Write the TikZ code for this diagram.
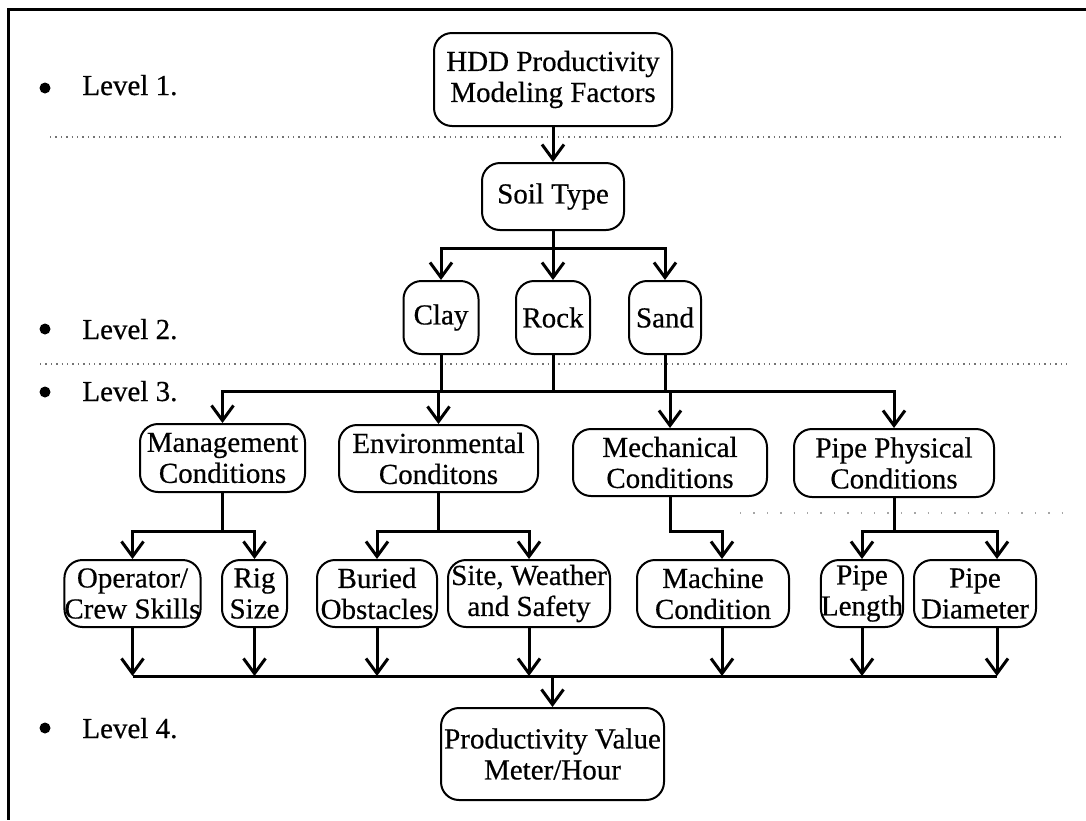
\documentclass[tikz,border=0pt]{standalone}
\usepackage{fontspec}
\setmainfont{Liberation Serif}[FakeBold=0.5]
\usetikzlibrary{arrows.meta}
\begin{document}
\begin{tikzpicture}[x=0.5pt,y=-0.5pt,
  box/.style={draw, line width=1pt, rounded corners=9pt, inner sep=0pt,
    align=center, font=\fontsize{14.5}{15.5}\selectfont},
  conn/.style={line width=1.5pt},
  arr/.style={conn, -{Straight Barb[length=7.5pt,width=11pt,line width=1.5pt]}},
  lvl/.style={anchor=base west, inner sep=0pt, font=\fontsize{14.5}{15.5}\selectfont},
  dot/.style={circle, fill, inner sep=0pt, minimum size=5.5pt},
  sep/.style={black!55, dotted, line width=0.7pt},
  frame/.style={line width=1.5pt}]
\useasboundingbox (0,0) rectangle (1086,820);

% outer frame
\draw[frame] (1086,9) -- (8,9) -- (8,820);

% level separators
\draw[sep] (50,137) -- (1062,137);
\draw[sep] (40,364) -- (1067,364);
\draw[sep, black!35, dash pattern=on 0.7pt off 6pt] (740,513) -- (1062,513);

% level labels with their bullets
\node[lvl] (lv1) at (82,95)  {Level 1.};
\node[lvl] (lv2) at (82,339) {Level 2.};
\node[lvl] (lv3) at (82,401) {Level 3.};
\node[lvl] (lv4) at (82,738) {Level 4.};
\node[dot] (b1) at (45,88)  {};
\node[dot] (b2) at (45,329) {};
\node[dot] (b3) at (45,392) {};
\node[dot] (b4) at (45,728) {};

% level 1
\node[box, minimum width=119pt, minimum height=46.5pt] (hdd) at (553,79.5) {HDD Productivity\\Modeling Factors};
\node[box, minimum width=71pt, minimum height=33.5pt] (soil) at (553,196.5) {Soil Type};

% level 2
\node[box, minimum width=37.5pt, minimum height=36.5pt] (clay) at (441,317.5) {Clay};
\node[box, minimum width=37pt, minimum height=36.5pt] (rock) at (553,317.5) {Rock};
\node[box, minimum width=36pt, minimum height=36.5pt] (sand) at (665,317.5) {Sand};

% level 3
\node[box, minimum width=82.5pt, minimum height=34pt] (mgmt) at (222.5,458) {Management\\Conditions};
\node[box, minimum width=99.5pt, minimum height=33.5pt] (env) at (438.5,458.5) {Environmental\\Conditons};
\node[box, minimum width=97pt, minimum height=33.5pt] (mech) at (670,462.5) {Mechanical\\Conditions};
\node[box, minimum width=100pt, minimum height=34pt] (pphys) at (894,463) {Pipe Physical\\Conditions};

% level 3 factors
\node[box, minimum width=65.5pt, minimum height=33.5pt] (op) at (132.5,593.5) {Operator/\\Crew Skills};
\node[box, minimum width=32.5pt, minimum height=33.5pt] (rig) at (254.5,593.5) {Rig\\Size};
\node[box, minimum width=60pt, minimum height=33.5pt] (bur) at (377,593.5) {Buried\\Obstacles};
\node[box, minimum width=81pt, minimum height=33.5pt] (site) at (529,593.5) {Site, Weather\\and Safety};
\node[box, minimum width=76pt, minimum height=33.5pt] (mach) at (713,593.5) {Machine\\Condition};
\node[box, minimum width=39pt, minimum height=33.5pt] (plen) at (862,593.5) {Pipe\\Length};
\node[box, minimum width=61pt, minimum height=33.5pt] (pdia) at (975,593.5) {Pipe\\Diameter};

% level 4
\node[box, minimum width=111.5pt, minimum height=46pt] (prod) at (552.5,754) {Productivity Value\\Meter/Hour};

% rows of the joining bars and off-centre drop lines
\coordinate (r1) at (0,248);
\coordinate (r3) at (0,391);
\coordinate (r4) at (0,531);
\coordinate (r5) at (0,676);
\coordinate (mcx) at (722,0);
\coordinate (pdx) at (997,0);

% level 1 -> soil type
\draw[arr] (hdd) -- (soil);

% soil type -> clay / rock / sand
\draw[conn] (soil.south) -- (soil.south |- r1) coordinate (sj);
\draw[arr] (sj) -| (clay.north);
\draw[arr] (sj) -- (rock.north);
\draw[arr] (sj) -| (sand.north);

% clay / rock / sand -> condition groups
\draw[conn] (clay.south) -- (clay.south |- r3);
\draw[conn] (rock.south) -- (rock.south |- r3) coordinate (cj);
\draw[conn] (sand.south) -- (sand.south |- r3);
\draw[arr] (cj) -| (mgmt.north);
\draw[arr] (cj) -| (env.north);
\draw[arr] (cj) -| (mech.north);
\draw[arr] (cj) -| (pphys.north);

% condition groups -> factors
\draw[conn] (mgmt.south) -- (mgmt.south |- r4) coordinate (mj);
\draw[arr] (mj) -| (op.north);
\draw[arr] (mj) -| (rig.north);
\draw[conn] (env.south) -- (env.south |- r4) coordinate (ej);
\draw[arr] (ej) -| (bur.north);
\draw[arr] (ej) -| (site.north);
\draw[arr] (mech.south) |- (mcx |- r4) -- (mcx |- mach.north);
\draw[conn] (pphys.south) -- (pphys.south |- r4) coordinate (pj);
\draw[arr] (pj) -| (plen.north);
\draw[arr] (pj) -| (pdx |- pdia.north);

% factors -> productivity value
\draw[arr] (op.south) -- (op.south |- r5);
\draw[arr] (rig.south) -- (rig.south |- r5);
\draw[arr] (bur.south) -- (bur.south |- r5);
\draw[arr] (site.south) -- (site.south |- r5);
\draw[arr] (mcx |- mach.south) -- (mcx |- r5);
\draw[arr] (plen.south) -- (plen.south |- r5);
\draw[arr] (pdx |- pdia.south) -- (pdx |- r5);
\draw[conn] (op.south |- r5) -- (pdx |- r5);
\draw[arr] (prod.north |- r5) -- (prod.north);
\end{tikzpicture}
\end{document}
